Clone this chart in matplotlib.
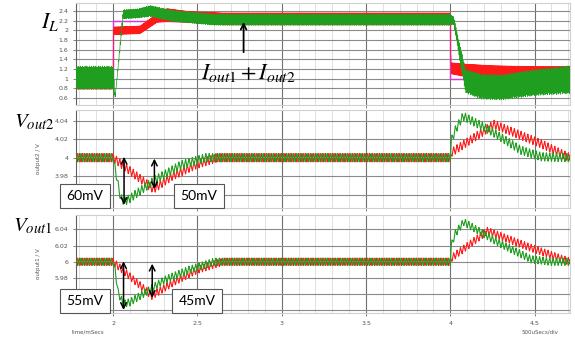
import numpy as np
import matplotlib.pyplot as plt
from matplotlib.ticker import MultipleLocator

plt.rcParams['mathtext.fontset'] = 'stix'
plt.rcParams['path.simplify'] = False

# time axis (ms)
t_lim = (1.78, 4.71)
x_major = [2, 2.5, 3, 3.5, 4, 4.5]
x_labels = ['2', '2.5', '3', '3.5', '4', '4.5']

# inductor current panel: reference step (magenta), red and green currents
il_ref_t = [1.78, 2.0, 2.0, 4.0, 4.0, 4.71]
il_ref_v = [1.0, 1.0, 2.2, 2.2, 1.0, 1.0]

il_red_t = [1.78, 1.999, 2.003, 2.16, 2.26, 2.32, 2.45, 2.65, 4.0, 4.005, 4.1, 4.25, 4.5, 4.71]
il_red_v = [0.98, 0.98, 1.98, 2.0, 2.24, 2.3, 2.26, 2.22, 2.22, 1.2, 1.15, 1.05, 1.0, 1.0]
il_red_a = [0.25, 0.25, 0.09, 0.09, 0.1, 0.15, 0.13, 0.14, 0.14, 0.13, 0.15, 0.22, 0.25, 0.25]

il_grn_t = [1.78, 2.0, 2.012, 2.06, 2.15, 2.22, 2.35, 2.6, 4.0, 4.02, 4.09, 4.18, 4.3, 4.5, 4.71]
il_grn_v = [1.02, 1.02, 0.62, 2.33, 2.35, 2.4, 2.3, 2.22, 2.22, 2.2, 0.95, 0.84, 0.82, 0.92, 0.98]
il_grn_a = [0.25, 0.25, 0.03, 0.1, 0.1, 0.12, 0.12, 0.12, 0.12, 0.08, 0.25, 0.27, 0.27, 0.28, 0.3]

# output2 voltage
v2_red_t = [1.78, 2.0, 2.24, 2.35, 2.5, 2.62, 4.0, 4.01, 4.26, 4.54, 4.71]
v2_red_v = [4.0, 4.0, 3.966, 3.98, 3.993, 4.0, 4.0, 4.006, 4.036, 4.015, 4.0]
v2_grn_t = [1.78, 2.0, 2.045, 2.07, 2.1, 2.25, 2.4, 2.55, 4.0, 4.006, 4.03, 4.076, 4.24, 4.42, 4.54, 4.71]
v2_grn_v = [4.0, 4.0, 3.956, 3.953, 3.956, 3.976, 3.992, 4.0, 4.0, 4.018, 4.03, 4.045, 4.029, 4.008, 4.001, 4.0]

# output1 voltage
v1_red_t = [1.78, 2.0, 2.23, 2.37, 2.5, 2.65, 4.0, 4.01, 4.22, 4.48, 4.71]
v1_red_v = [6.0, 6.0, 5.958, 5.976, 5.99, 6.0, 6.0, 6.005, 6.038, 6.017, 6.0]
v1_grn_t = [1.78, 2.0, 2.012, 2.03, 2.06, 2.1, 2.2, 2.3, 2.45, 2.6, 4.0, 4.006, 4.03, 4.08, 4.29, 4.48, 4.6, 4.71]
v1_grn_v = [6.0, 6.0, 5.99, 5.962, 5.948, 5.95, 5.963, 5.977, 5.99, 6.0, 6.0, 6.02, 6.035, 6.049, 6.023, 6.003, 6.0, 6.0]

v_ripple = 0.0045

# y tick labels hidden by the boxes in the original
hidden_ticks = [3.96, 3.94, 5.96, 5.94]

RED = '#ff1a1a'
GRN = '#1f9e1f'
MAG = '#e030e0'


def tri(t, period, phase):
    return 2 * np.abs(2 * ((t / period + phase) % 1) - 1) - 1


def trace(tk, vk, amp, period, phase, step):
    t = np.arange(t_lim[0], t_lim[1], step)
    a = np.interp(t, tk, amp) if np.ndim(amp) else amp
    return t, np.interp(t, tk, vk) + a * tri(t, period, phase)


def ylab(v, p):
    v = round(v, 3)
    if any(abs(v - h) < 1e-6 for h in hidden_ticks):
        return ''
    return '%g' % v


fig = plt.figure(figsize=(5.75, 3.4), dpi=100)
W, H = 575, 340


def add_ax(top, bottom):
    return fig.add_axes([76 / W, 1 - bottom / H, (570 - 76) / W, (bottom - top) / H])


def style(ax, ylim, ystep, show_x):
    ax.set_xlim(*t_lim)
    ax.set_ylim(*ylim)
    ax.xaxis.set_major_locator(MultipleLocator(0.5))
    ax.xaxis.set_minor_locator(MultipleLocator(0.1))
    ax.yaxis.set_major_locator(MultipleLocator(ystep))
    ax.grid(which='major', axis='x', color='#707070', lw=0.8)
    ax.grid(which='minor', axis='x', color='#dcdcdc', lw=0.6)
    ax.grid(which='major', axis='y', color='#8a8a8a', lw=0.8)
    ax.set_axisbelow(True)
    ax.yaxis.set_major_formatter(plt.FuncFormatter(ylab))
    ax.tick_params(labelsize=4.5, colors='#555555', length=2, width=0.5)
    ax.tick_params(which='minor', length=0)
    for s in ['top', 'right', 'bottom']:
        ax.spines[s].set_color('#d0d0d0')
    ax.spines['left'].set_color('#606060')
    if show_x:
        ax.set_xticks(x_major)
        ax.set_xticklabels(x_labels)
    else:
        ax.tick_params(axis='x', labelbottom=False)


# panel 1: inductor currents
ax1 = add_ax(3, 105)
style(ax1, (0.456, 2.565), 0.2, False)
ax1.plot(il_ref_t, il_ref_v, color=MAG, lw=1.0, zorder=2)
t, v = trace(il_red_t, il_red_v, il_red_a, 0.0045, 0.0, 0.0005)
ax1.plot(t, v, color=RED, lw=0.5, zorder=3)
t, v = trace(il_grn_t, il_grn_v, il_grn_a, 0.0052, 0.3, 0.0005)
ax1.plot(t, v, color=GRN, lw=0.5, zorder=4)
ax1.annotate('', xy=(2.774, 2.23), xytext=(2.774, 1.49),
             arrowprops=dict(arrowstyle='->', color='black', lw=1.3), zorder=6)
ax1.text(2.8, 1.12, r'$I_{out1} + I_{out2}$', fontsize=16, ha='center', va='center', zorder=6)

# panel 2: output2 voltage
ax2 = add_ax(110, 208)
style(ax2, (3.9456, 4.0516), 0.02, False)
t, v = trace(v2_red_t, v2_red_v, v_ripple, 0.02, 0.0, 0.002)
ax2.plot(t, v, color=RED, lw=0.8, zorder=3)
t, v = trace(v2_grn_t, v2_grn_v, v_ripple, 0.02, 0.5, 0.002)
ax2.plot(t, v, color=GRN, lw=0.8, zorder=4)
ax2.set_ylabel('output2 / V', fontsize=4, color='#555555', labelpad=10)
for x, y0, y1 in [(2.065, 4.004, 3.946), (2.245, 4.002, 3.963)]:
    ax2.annotate('', xy=(x, y1), xytext=(x, y0),
                 arrowprops=dict(arrowstyle='<->', color='black', lw=1.1), zorder=6)

# panel 3: output1 voltage
ax3 = add_ax(215, 313)
style(ax3, (5.9367, 6.0577), 0.02, True)
t, v = trace(v1_red_t, v1_red_v, v_ripple, 0.02, 0.0, 0.002)
ax3.plot(t, v, color=RED, lw=0.8, zorder=3)
t, v = trace(v1_grn_t, v1_grn_v, v_ripple, 0.02, 0.5, 0.002)
ax3.plot(t, v, color=GRN, lw=0.8, zorder=4)
ax3.set_ylabel('output1 / V', fontsize=4, color='#555555', labelpad=10)
for x, y0, y1 in [(2.062, 6.004, 5.937), (2.232, 6.001, 5.952)]:
    ax3.annotate('', xy=(x, y1), xytext=(x, y0),
                 arrowprops=dict(arrowstyle='<->', color='black', lw=1.1), zorder=6)

# big signal names
fig.text(50 / W, 1 - 22 / H, r'$I_L$', fontsize=16, ha='center', va='center')
fig.text(34 / W, 1 - 122 / H, r'$V_{out2}$', fontsize=15, ha='center', va='center')
fig.text(33 / W, 1 - 226 / H, r'$V_{out1}$', fontsize=15, ha='center', va='center')

# boxed deviation labels
box = dict(boxstyle='square,pad=0.45', fc='white', ec='#555555', lw=0.8)
for x, y, s in [(85, 196, '60mV'), (199, 196, '50mV'), (85, 301, '55mV'), (197, 301, '45mV')]:
    fig.text(x / W, 1 - y / H, s, fontsize=10, family='Lato', ha='center', va='center',
             bbox=box, zorder=10)

fig.text(88 / W, 1 - 332 / H, 'time/mSecs', fontsize=4, color='#555555', ha='center', va='center')
fig.text(540 / W, 1 - 332 / H, '500uSecs/div', fontsize=4, color='#555555', ha='center', va='center')

fig.savefig('out.png', dpi=100)
